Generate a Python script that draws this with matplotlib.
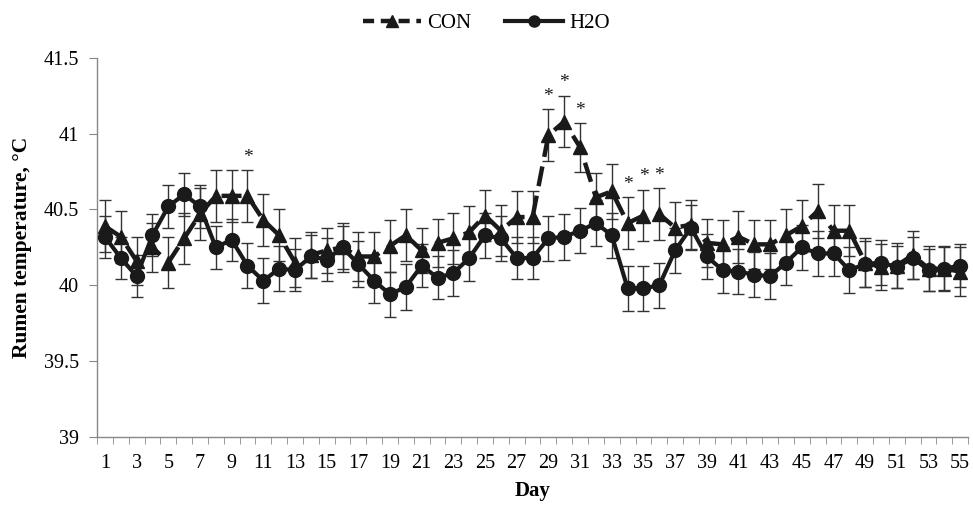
import matplotlib
matplotlib.use("Agg")
import matplotlib.pyplot as plt
from matplotlib.lines import Line2D
import numpy as np

days = list(range(1, 56))

con = [40.39, 40.32, 40.16, 40.25, 40.15, 40.31, 40.47, 40.59, 40.59, 40.59,
       40.43, 40.33, 40.15, 40.20, 40.23, 40.25, 40.19, 40.19, 40.26, 40.33,
       40.23, 40.28, 40.31, 40.35, 40.46, 40.36, 40.45, 40.45, 40.99, 41.08,
       40.91, 40.58, 40.62, 40.41, 40.46, 40.47, 40.38, 40.40, 40.28, 40.27,
       40.32, 40.27, 40.27, 40.33, 40.39, 40.49, 40.36, 40.36, 40.15, 40.12,
       40.13, 40.20, 40.11, 40.11, 40.09]
con_err = [0.17, 0.17, 0.16, 0.16, 0.17, 0.17, 0.17, 0.17, 0.17, 0.17,
           0.17, 0.17, 0.16, 0.15, 0.15, 0.16, 0.16, 0.16, 0.17, 0.17,
           0.15, 0.16, 0.17, 0.17, 0.17, 0.17, 0.17, 0.17, 0.17, 0.17,
           0.16, 0.16, 0.18, 0.17, 0.17, 0.17, 0.17, 0.16, 0.16, 0.16,
           0.17, 0.16, 0.16, 0.17, 0.17, 0.18, 0.17, 0.17, 0.16, 0.15,
           0.15, 0.16, 0.15, 0.15, 0.16]

h2o = [40.32, 40.18, 40.06, 40.33, 40.52, 40.60, 40.52, 40.25, 40.30, 40.13,
       40.03, 40.11, 40.10, 40.19, 40.17, 40.25, 40.14, 40.03, 39.94, 39.99,
       40.13, 40.05, 40.08, 40.18, 40.33, 40.31, 40.18, 40.18, 40.31, 40.32,
       40.36, 40.41, 40.33, 39.98, 39.98, 40.00, 40.23, 40.38, 40.19, 40.10,
       40.09, 40.07, 40.06, 40.15, 40.25, 40.21, 40.21, 40.10, 40.14, 40.15,
       40.12, 40.18, 40.10, 40.11, 40.13]
h2o_err = [0.14, 0.14, 0.14, 0.14, 0.14, 0.14, 0.14, 0.14, 0.14, 0.15,
           0.15, 0.15, 0.14, 0.14, 0.14, 0.14, 0.15, 0.15, 0.15, 0.15,
           0.14, 0.14, 0.15, 0.15, 0.15, 0.15, 0.14, 0.14, 0.15, 0.15,
           0.15, 0.15, 0.15, 0.15, 0.15, 0.15, 0.15, 0.15, 0.15, 0.15,
           0.15, 0.15, 0.15, 0.15, 0.15, 0.15, 0.15, 0.15, 0.15, 0.15,
           0.14, 0.14, 0.14, 0.14, 0.14]

sig_days = [10, 29, 30, 31, 34, 35, 36]
yticks = [39, 39.5, 40, 40.5, 41, 41.5]
ytick_labels = ["39", "39.5", "40", "40.5", "41", "41.5"]

plt.rcParams['font.family'] = ['Liberation Serif', 'DejaVu Serif']

fig = plt.figure(figsize=(9.73, 5.08), dpi=100)
ax = fig.add_axes([0.0997, 0.140, 0.8953, 0.746])

ax.errorbar(days, con, yerr=con_err, fmt='none', ecolor='#333333',
            elinewidth=1.0, capsize=4, capthick=1.0, zorder=1)
ax.errorbar(days, h2o, yerr=h2o_err, fmt='none', ecolor='#333333',
            elinewidth=1.0, capsize=4, capthick=1.0, zorder=1)

dash = (0, (4.5, 2.2))
ax.plot(days, con, color='#1a1a1a', lw=3.2, linestyle=dash,
        marker='^', markersize=10, zorder=3)
ax.plot(days, h2o, color='#1a1a1a', lw=3.0, linestyle='-',
        marker='o', markersize=10, zorder=4)

for d in sig_days:
    i = days.index(d)
    ax.text(d, con[i] + con_err[i] + 0.03, '*', ha='center', va='bottom',
            fontsize=14, color='#1a1a1a')

ax.set_xlim(0.5, 55.5)
ax.set_ylim(39, 41.5)
ax.set_yticks(yticks)
ax.set_yticklabels(ytick_labels, fontsize=14.5)
ax.set_xticks(days[::2])
ax.set_xticklabels([str(d) for d in days[::2]], fontsize=14.5)
ax.set_xticks(np.arange(0.5, 56, 1.0), minor=True)
ax.tick_params(axis='x', which='major', length=0, pad=12)
ax.tick_params(axis='x', which='minor', length=5, color='#888888', direction='out')
ax.tick_params(axis='y', which='major', length=6, color='#888888', direction='out', pad=7)

for s in ['top', 'right']:
    ax.spines[s].set_visible(False)
for s in ['left', 'bottom']:
    ax.spines[s].set_color('#888888')
    ax.spines[s].set_linewidth(1.0)

ax.set_ylabel('Rumen temperature, °C', fontsize=15.5, fontweight='bold', labelpad=8)
ax.set_xlabel('Day', fontsize=15, fontweight='bold', labelpad=6)

h1 = Line2D([], [], color='#1a1a1a', lw=3.2, linestyle=(0, (2.5, 1.5)),
            marker='^', markersize=8)
h2 = Line2D([], [], color='#1a1a1a', lw=3.0, linestyle='-',
            marker='o', markersize=8)
fig.legend(handles=[h1, h2], labels=['CON', 'H2O'], loc='upper center',
           bbox_to_anchor=(0.5, 1.01), ncol=2, frameon=False, fontsize=15,
           handlelength=2.8, columnspacing=1.6, handletextpad=0.3)

fig.savefig('out.png', dpi=100)
